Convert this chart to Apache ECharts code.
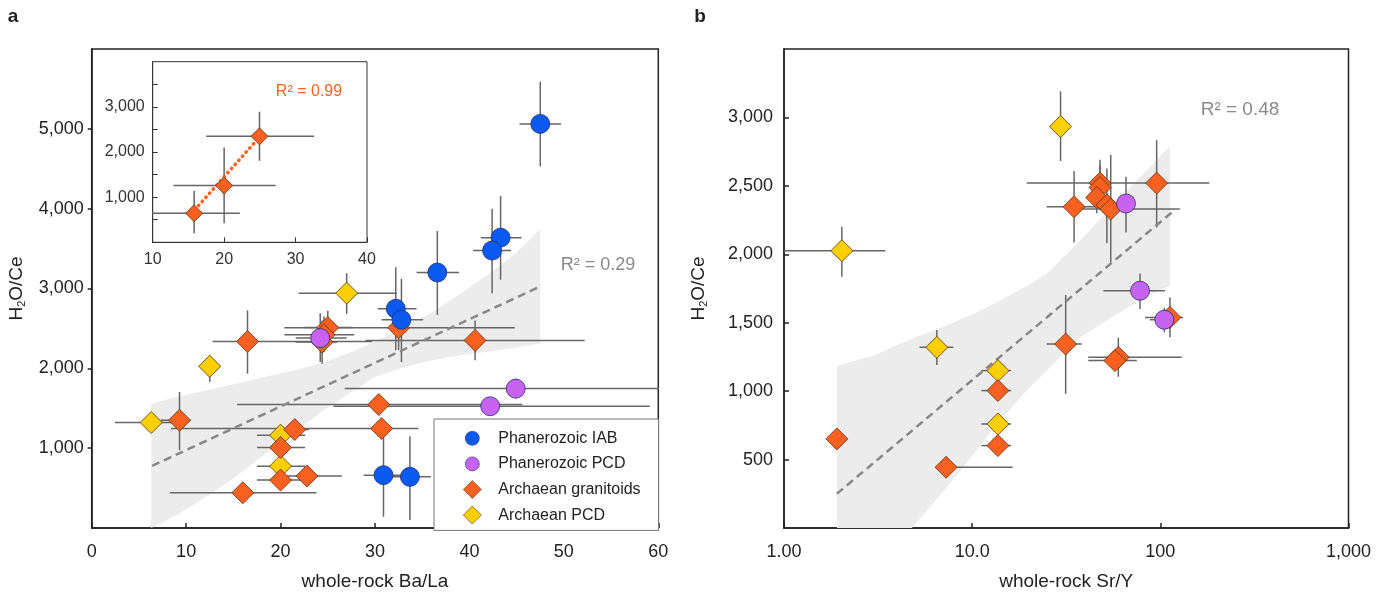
<!DOCTYPE html>
<html>
<head>
<meta charset="utf-8">
<title>H2O/Ce vs Ba/La and Sr/Y</title>
<script src="https://cdn.jsdelivr.net/npm/echarts@6/dist/echarts.min.js"></script>
<style>
  html, body { margin: 0; padding: 0; background: #fff; }
  #main { width: 1383px; height: 597px; }
</style>
</head>
<body>
<div id="main"></div>
<script>
// every point: [x, y, xLow, xHigh, yLow, yHigh]
// panel a : whole-rock Ba/La
var iabA = [
  [47.5, 5062, 45.3, 49.7, 4530, 5590],
  [43.3, 3637, 41.2, 45.5, 3110, 4160],
  [42.4, 3475, 40.4, 44.4, 2940, 4000],
  [36.6, 3200, 34.4, 38.9, 2670, 3720],
  [32.2, 2746, 30.3, 34.4, 2225, 3266],
  [32.8, 2608, 30.7, 35.1, 2079, 3121],
  [30.9, 662, 28.8, 33.0, 141, 1246],
  [33.7, 641, 31.9, 35.9, 100, 1150]
];
var pcdPhanA = [
  [24.2, 2379, 21.6, 27.0, 2079, 2690],
  [44.9, 1746, 26.8, 63.0, 1620, 1870],
  [42.2, 1525, 25.6, 59.1, 1440, 1610]
];
var granA = [
  [16.5, 2337, 12.8, 29.7, 1933, 2725],
  [25.0, 2510, 22.5, 27.6, 2300, 2720],
  [24.6, 2420, 20.4, 27.8, 2200, 2650],
  [24.4, 2330, 21.6, 26.0, 2058, 2600],
  [32.5, 2508, 20.4, 44.8, 2230, 2790],
  [40.6, 2350, 29.0, 52.2, 2100, 2600],
  [9.3, 1350, 7.3, 10.5, 975, 1704],
  [30.4, 1546, 15.4, 45.6, 1450, 1650],
  [30.7, 1246, 8.4, 34.6, 1150, 1350],
  [21.5, 1233, 20.0, 23.0, 1150, 1320],
  [20.0, 1008, 17.5, 22.6, 1008, 1008],
  [20.0, 600, 17.5, 22.6, 600, 600],
  [22.8, 650, 20.7, 26.5, 650, 650],
  [16.0, 441, 8.3, 23.8, 441, 441]
];
var pcdArchA = [
  [27.0, 2942, 21.9, 32.3, 2683, 3192],
  [12.5, 2025, 12.0, 13.1, 1829, 2162],
  [6.3, 1321, 2.45, 9.76, 1321, 1321],
  [20.0, 1162, 17.5, 22.6, 1162, 1162],
  [20.0, 775, 17.5, 22.6, 775, 775]
];
var fitA = [[6.4, 779], [47.5, 3025]];
var bandAX  = [6.3, 9, 12, 15, 19, 22, 25, 28, 30, 33, 36, 39, 42, 45, 47.5];
var bandAHi = [1558, 1640, 1720, 1800, 1910, 1990, 2090, 2230, 2340, 2500, 2700, 2930, 3180, 3450, 3750];
var bandALo = [0, 160, 380, 620, 980, 1250, 1510, 1740, 1890, 2010, 2100, 2160, 2210, 2260, 2310];

// inset of panel a
var granInset = [
  [15.8, 644, 9.4, 22.2, 200, 1140],
  [20.0, 1258, 12.9, 27.2, 422, 2102],
  [24.95, 2347, 17.5, 32.6, 1807, 2889]
];
var fitInset = [[15.9, 720], [24.6, 2267]];

// panel b : whole-rock Sr/Y
var pcdPhanB = [
  [65.7, 2371, 61, 71, 2159, 2566],
  [78, 1734, 49.8, 105.9, 1600, 1860],
  [105, 1522, 88, 125, 1430, 1610]
];
var granB = [
  [1.91, 651, 1.91, 1.91, 651, 651],
  [7.27, 444, 7.0, 16.4, 444, 444],
  [13.7, 1004, 11.2, 16.1, 1004, 1004],
  [13.7, 602, 11.2, 16.1, 602, 602],
  [31.4, 1344, 24.9, 38.2, 980, 1702],
  [59.8, 1247, 41.4, 130, 1105, 1390],
  [57.4, 1223, 41.4, 75, 1150, 1300],
  [112.5, 1539, 82.9, 132, 1393, 1685],
  [95.6, 2520, 19.5, 182, 2196, 2834],
  [34.8, 2347, 24.9, 47.8, 2086, 2609],
  [47.8, 2520, 45, 51, 2400, 2690],
  [47.8, 2488, 45, 51, 2350, 2650],
  [45.9, 2415, 43, 49, 2300, 2550],
  [52, 2360, 49, 56, 2080, 2626],
  [54.5, 2330, 33.8, 127, 1940, 2726]
];
var pcdArchB = [
  [29.5, 2933, 29.5, 29.5, 2682, 3190],
  [2.03, 2026, 0.9, 3.45, 1836, 2201],
  [6.49, 1320, 5.25, 7.95, 1191, 1447],
  [13.7, 1150, 11.2, 16.1, 1150, 1150],
  [13.7, 760, 11.2, 16.1, 760, 760]
];
var fitB = [[1.91, 250], [114.8, 2305]];
var bandBX  = [1.91, 3, 4.78, 7.33, 11, 13.5, 20.3, 24.9, 37.4, 45.9, 69, 90, 112.5];
var bandBHi = [1186, 1260, 1385, 1480, 1588, 1650, 1782, 1860, 2099, 2230, 2488, 2650, 2792];
var bandBLo = [0, 0, 0, 298, 600, 760, 1030, 1150, 1390, 1470, 1620, 1710, 1770];

var seriesNames = ['Phanerozoic IAB', 'Phanerozoic PCD', 'Archaean granitoids', 'Archaean PCD'];

var FONT = '"Liberation Sans", Arial, sans-serif';
var C_IAB = '#0a5af2', C_PPCD = '#c862f2', C_GRAN = '#fa6121', C_APCD = '#fccf00';
// legend icons: diamond fills its 18px box, circle keeps a margin so it reads smaller
var DIAMOND_ICON = 'path://M9,0 L18,9 L9,18 L0,9 Z';
var CIRCLE_ICON = 'path://M0,0 M18,18 M2,9 A7,7 0 1,1 16,9 A7,7 0 1,1 2,9 Z';

var myChart = echarts.init(document.getElementById('main'));

function comma(v) { return Math.round(v).toLocaleString('en-US'); }

function bandItem(xs, lo, hi) {
  return function (params, api) {
    var pts = [];
    for (var i = 0; i < xs.length; i++) pts.push(api.coord([xs[i], hi[i]]));
    for (var j = xs.length - 1; j >= 0; j--) pts.push(api.coord([xs[j], lo[j]]));
    return { type: 'polygon', shape: { points: pts }, style: { fill: '#ececec' } };
  };
}

function errItem(params, api) {
  var x = api.value(0), y = api.value(1);
  var a = api.coord([api.value(2), y]), b = api.coord([api.value(3), y]);
  var c = api.coord([x, api.value(4)]), d = api.coord([x, api.value(5)]);
  var st = { stroke: '#666', lineWidth: 1.5 };
  return {
    type: 'group',
    children: [
      { type: 'line', shape: { x1: a[0], y1: a[1], x2: b[0], y2: b[1] }, style: st },
      { type: 'line', shape: { x1: c[0], y1: c[1], x2: d[0], y2: d[1] }, style: st }
    ]
  };
}

function axisCommon(extra) {
  var base = {
    splitLine: { show: false },
    axisLine: { lineStyle: { color: '#222', width: 1.5 } },
    axisTick: { inside: true, length: 5, lineStyle: { color: '#222', width: 1.5 } },
    axisLabel: { fontSize: 18, color: '#222', fontFamily: FONT },
    nameTextStyle: { fontSize: 19, color: '#222', fontFamily: FONT }
  };
  return echarts.util.merge(base, extra, true);
}

var yName = {
  fontSize: 19, color: '#222', fontFamily: FONT,
  rich: { sub: { fontSize: 11, fontFamily: FONT, color: '#222', padding: [10, 0, 0, 0] } }
};

function scatter(name, data, gi, color, symbol, size, z) {
  return {
    name: name, type: 'scatter', xAxisIndex: gi, yAxisIndex: gi, z: z,
    data: data, encode: { x: 0, y: 1 },
    symbol: symbol, symbolSize: size,
    itemStyle: { color: color, borderColor: symbol === 'circle' ? '#23306a' : '#5a2e12', borderWidth: 0.8, opacity: 1 }
  };
}

function errSeries(data, gi) {
  return {
    type: 'custom', xAxisIndex: gi, yAxisIndex: gi, z: 2, clip: true, silent: true,
    data: data, encode: { x: 0, y: 1 }, renderItem: errItem
  };
}

var allA = pcdArchA.concat(granA, pcdPhanA, iabA);
var allB = pcdArchB.concat(granB, pcdPhanB);

function label(text, x, y, size, color, bold) {
  return {
    type: 'text', x: x, y: y, z: 20,
    style: {
      text: text, fontSize: size, fontWeight: bold ? 'bold' : 'normal', fill: color, fontFamily: FONT,
      textAlign: 'center', textVerticalAlign: 'middle', align: 'center', verticalAlign: 'middle'
    }
  };
}

var option = {
  animation: false,
  backgroundColor: '#fff',
  textStyle: { fontFamily: FONT },
  grid: [
    { left: 91.7, top: 49, width: 566.6, height: 479, show: true, borderColor: '#222', borderWidth: 1.5, backgroundColor: 'transparent' },
    { left: 784, top: 49, width: 564.5, height: 479, show: true, borderColor: '#222', borderWidth: 1.5, backgroundColor: 'transparent' },
    { left: 152.7, top: 61.7, width: 214.3, height: 180.6, show: true, borderColor: '#333', borderWidth: 1, backgroundColor: '#fff' }
  ],
  xAxis: [
    axisCommon({ gridIndex: 0, type: 'value', min: 0, max: 60, interval: 10,
      axisLabel: { margin: 15 },
      name: 'whole-rock Ba/La', nameLocation: 'middle', nameGap: 44 }),
    axisCommon({ gridIndex: 1, type: 'log', logBase: 10, min: 1, max: 1000,
      axisLabel: { margin: 15, formatter: function (v) {
        var r = Math.round(v);
        if (r === 1) return '1.00';
        if (r === 10) return '10.0';
        return comma(r);
      } },
      minorTick: { show: false },
      name: 'whole-rock Sr/Y', nameLocation: 'middle', nameGap: 44 }),
    axisCommon({ gridIndex: 2, type: 'value', min: 10, max: 40, interval: 10,
      axisLine: { lineStyle: { width: 1, color: '#333' } },
      axisTick: { length: 5, lineStyle: { width: 1, color: '#333' } },
      axisLabel: { fontSize: 16, margin: 9, color: '#333' } })
  ],
  yAxis: [
    axisCommon({ gridIndex: 0, type: 'value', min: 0, max: 6000, interval: 1000,
      axisTick: { inside: false, length: 4 },
      axisLabel: { margin: 8, showMinLabel: false, showMaxLabel: false, formatter: comma },
      name: 'H{sub|2}O/Ce', nameLocation: 'middle', nameGap: 64, nameTextStyle: yName }),
    axisCommon({ gridIndex: 1, type: 'value', min: 0, max: 3500, interval: 500,
      axisLabel: { margin: 11, showMinLabel: false, showMaxLabel: false, formatter: comma },
      name: 'H{sub|2}O/Ce', nameLocation: 'middle', nameGap: 75, nameTextStyle: yName }),
    axisCommon({ gridIndex: 2, type: 'value', min: 0, max: 4000, interval: 500,
      axisLine: { lineStyle: { width: 1, color: '#333' } },
      axisTick: { length: 5, lineStyle: { width: 1, color: '#333' } },
      axisLabel: { fontSize: 16, margin: 8, color: '#333', showMinLabel: false, showMaxLabel: false,
        formatter: function (v) { return v % 1000 === 0 ? comma(v) : ''; } } })
  ],
  legend: {
    data: [
      { name: seriesNames[0], icon: CIRCLE_ICON },
      { name: seriesNames[1], icon: CIRCLE_ICON },
      { name: seriesNames[2], icon: DIAMOND_ICON },
      { name: seriesNames[3], icon: DIAMOND_ICON }
    ],
    orient: 'vertical', left: 434, top: 419,
    itemWidth: 18, itemHeight: 18, itemGap: 7,
    padding: [10, 18, 6, 29],
    backgroundColor: '#fff', borderColor: '#777', borderWidth: 1,
    selectedMode: false, z: 10,
    itemStyle: { borderWidth: 0.6 },
    textStyle: { fontSize: 16, color: '#222', fontFamily: FONT, padding: [0, 0, 0, 12] }
  },
  graphic: [
    label('a', 13, 17, 19, '#222', true),
    label('b', 700, 17, 19, '#222', true),
    label('R\u00b2 = 0.29', 598, 265, 18, '#8a8a8a'),
    label('R\u00b2 = 0.48', 1240, 110, 19, '#8a8a8a'),
    label('R\u00b2 = 0.99', 309, 92, 16, '#f26522')
  ],
  series: [
    // panel a
    { type: 'custom', xAxisIndex: 0, yAxisIndex: 0, z: 1, silent: true, clip: true,
      data: [[0, 0]], renderItem: bandItem(bandAX, bandALo, bandAHi) },
    { type: 'line', xAxisIndex: 0, yAxisIndex: 0, z: 2, data: fitA, symbol: 'none', silent: true,
      lineStyle: { color: '#888', width: 2.5, type: [8, 5] } },
    errSeries(allA, 0),
    scatter('Archaean PCD', pcdArchA, 0, C_APCD, 'diamond', 22, 3),
    scatter('Archaean granitoids', granA, 0, C_GRAN, 'diamond', 22, 4),
    scatter('Phanerozoic PCD', pcdPhanA, 0, C_PPCD, 'circle', 19, 5),
    scatter('Phanerozoic IAB', iabA, 0, C_IAB, 'circle', 19, 6),
    // panel b
    { type: 'custom', xAxisIndex: 1, yAxisIndex: 1, z: 1, silent: true, clip: true,
      data: [[1, 0]], renderItem: bandItem(bandBX, bandBLo, bandBHi) },
    { type: 'line', xAxisIndex: 1, yAxisIndex: 1, z: 2, data: fitB, symbol: 'none', silent: true,
      lineStyle: { color: '#888', width: 2.5, type: [8, 5] } },
    errSeries(allB, 1),
    scatter('Archaean PCD', pcdArchB, 1, C_APCD, 'diamond', 22, 3),
    scatter('Archaean granitoids', granB, 1, C_GRAN, 'diamond', 22, 4),
    scatter('Phanerozoic PCD', pcdPhanB, 1, C_PPCD, 'circle', 19, 5),
    // inset
    errSeries(granInset, 2),
    { type: 'line', xAxisIndex: 2, yAxisIndex: 2, z: 3, data: fitInset, symbol: 'none', silent: true,
      lineStyle: { color: C_GRAN, width: 3.5, type: [0.5, 5], cap: 'round' } },
    scatter('Archaean granitoids', granInset, 2, C_GRAN, 'diamond', 17, 4)
  ]
};

myChart.setOption(option);
</script>
</body>
</html>
